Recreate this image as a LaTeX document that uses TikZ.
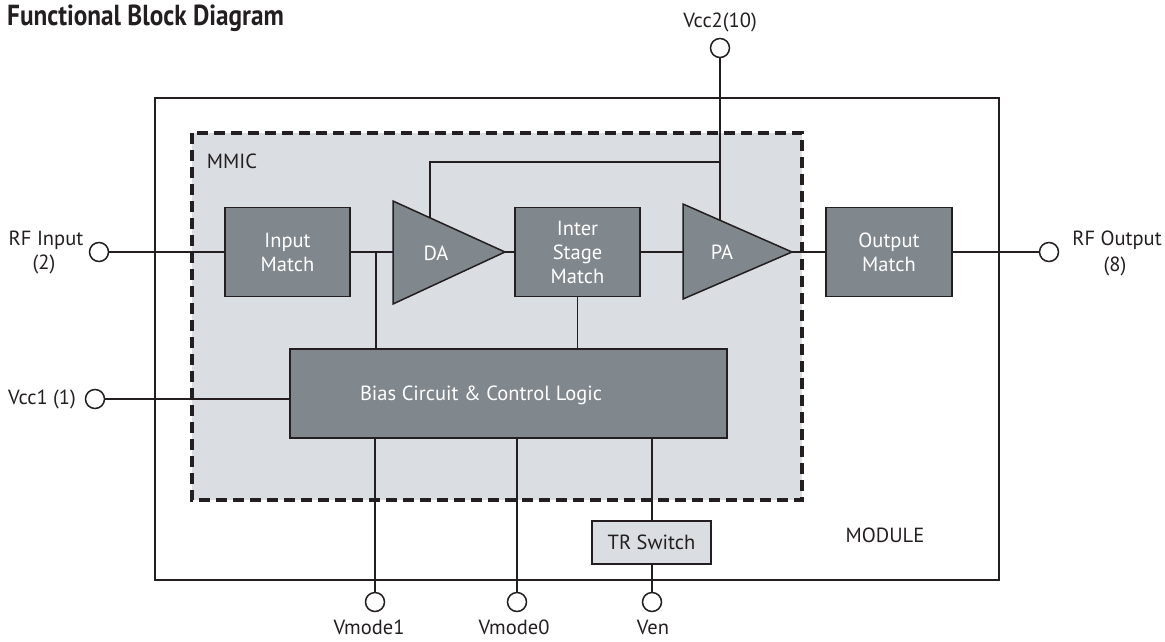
\documentclass[tikz,border=0pt]{standalone}
\usepackage{fontspec}
\setmainfont{PT Sans}
\usetikzlibrary{calc}
\definecolor{ink}{HTML}{231F20}
\definecolor{boxgray}{HTML}{80878D}
\definecolor{mmicgray}{HTML}{DADDE1}
\pgfdeclarelayer{bg}
\pgfdeclarelayer{wires}
\pgfsetlayers{bg,wires,main}
\tikzset{
  wire/.style={draw=ink,line width=1.4pt},
  thickwire/.style={draw=ink,line width=2.4pt},
  blk/.style={draw=ink,line width=1.8pt,fill=boxgray,text=white,font=\fontsize{20.5}{24}\selectfont,align=center,inner sep=0pt},
  lightblk/.style={draw=ink,line width=1.8pt,fill=mmicgray,text=ink,font=\fontsize{20.5}{24}\selectfont,align=center,inner sep=0pt},
  tri/.style={draw=ink,line width=1.5pt,fill=boxgray,line join=miter},
  pin/.style={circle,draw=ink,line width=1.5pt,fill=white,minimum size=19pt,inner sep=0pt},
  lbl/.style={text=ink,font=\fontsize{20.5}{24}\selectfont,inner sep=0pt,align=center},
  wlbl/.style={text=white,font=\fontsize{20.5}{24}\selectfont,inner sep=0pt,align=center},
  modulebox/.style={draw=ink,line width=2.4pt},
  mmicbox/.style={draw=ink,line width=3.6pt,dash pattern=on 11pt off 6pt},
}
\begin{document}
\begin{tikzpicture}[x=1pt,y=-1pt]
\useasboundingbox (0,0) rectangle (1165,641);

% title
\node[anchor=west,text=ink,inner sep=0pt,font=\bfseries\fontsize{29}{32}\selectfont] (title) at (7,18) {\scalebox{0.87}[1]{Functional Block Diagram}};

% MMIC area
\begin{pgfonlayer}{bg}
\fill[mmicgray] (192,133) rectangle (802,500);
\end{pgfonlayer}
\node[lbl] (mmiclbl) at (232,161) {MMIC};
\node[lbl] (modlbl) at (885,535) {MODULE};

% pins
\node[pin] (rfin) at (99,252) {};
\node[pin] (vcc1) at (95,399) {};
\node[pin] (vcc2) at (720,48) {};
\node[pin] (rfout) at (1049,252) {};
\node[pin] (vm1) at (375,602) {};
\node[pin] (vm0) at (517,602) {};
\node[pin] (ven) at (652,602) {};

% pin labels
\node[lbl] (rfinlbl) at (46,240) {RF Input};
\node[lbl] (rfinnum) at (44,264) {(2)};
\node[lbl] (vcc1lbl) at (42,399) {Vcc1 (1)};
\node[lbl] (vcc2lbl) at (720,22) {Vcc2(10)};
\node[lbl] (rfoutlbl) at (1117,240) {RF Output};
\node[lbl] (rfoutnum) at (1115,266) {(8)};
\node[lbl] (vm1lbl) at (369,627) {Vmode1};
\node[lbl] (vm0lbl) at (514,627) {Vmode0};
\node[lbl] (venlbl) at (653,627) {Ven};

% triangle geometry
\coordinate (DAt) at (393,201);
\coordinate (DAb) at (393,304);
\coordinate (DAo) at (505,252);
\coordinate (DAi) at (393,252);
\coordinate (PAt) at (683,204);
\coordinate (PAb) at (683,299);
\coordinate (PAo) at (792,252);
\coordinate (PAi) at (683,252);
\coordinate (DAf) at ($(DAt)!0.33!(DAo)$);
\coordinate (PAf) at ($(PAt)!0.34!(PAo)$);
\coordinate (fbj) at (720,162);
\coordinate (j1) at (376,252);

% blocks
\node[blk,minimum width=125pt,minimum height=89pt] (inm) at (287.5,252) {Input\\Match};
\node[blk,minimum width=125pt,minimum height=89pt] (ism) at (577.5,252) {Inter\\Stage\\Match};
\node[blk,minimum width=126pt,minimum height=89pt] (outm) at (889,252) {Output\\Match};
\node[blk,minimum width=437pt,minimum height=89pt] (bias) at (508.5,393.5) {};
\node[wlbl] (biaslbl) at (481,395) {Bias Circuit \& Control Logic};
\node[lightblk,minimum width=119pt,minimum height=43pt] (trsw) at (651.5,542.5) {TR Switch};

% triangles
\draw[tri] (DAt) -- (DAo) -- (DAb) -- cycle;
\draw[tri] (PAt) -- (PAo) -- (PAb) -- cycle;
\node[wlbl] (DA) at (436,253) {DA};
\node[wlbl] (PA) at (722,252) {PA};

% wires
\begin{pgfonlayer}{wires}
\draw[wire] (rfin.east) -- (inm.west);
\draw[wire] (inm.east) -- (DAi);
\draw[wire] (j1) -- (j1 |- bias.north);
\draw[wire] (DAo) -- (ism.west);
\draw[wire] (ism.east) -- (PAi);
\draw[wire] (PAo) -- (outm.west);
\draw[wire] (outm.east) -- (rfout.west);
\draw[wire] (vcc2.south) -- (vcc2.south |- PAf);
\draw[wire] (DAf) |- (fbj);
\draw[wire] (ism.south) -- (ism.south |- bias.north);
\draw[thickwire] (vcc1.east) -- (vcc1 -| bias.west);
\draw[wire] (vm1.north |- bias.south) -- (vm1.north);
\draw[wire] (vm0.north |- bias.south) -- (vm0.north);
\draw[wire] (ven.north |- bias.south) -- (ven.north |- trsw.north);
\draw[wire] (ven.north |- trsw.south) -- (ven.north);
% borders
\draw[modulebox] (155,98) rectangle (999,580);
\draw[mmicbox] (192,133) rectangle (802,500);
\end{pgfonlayer}
\end{tikzpicture}
\end{document}
